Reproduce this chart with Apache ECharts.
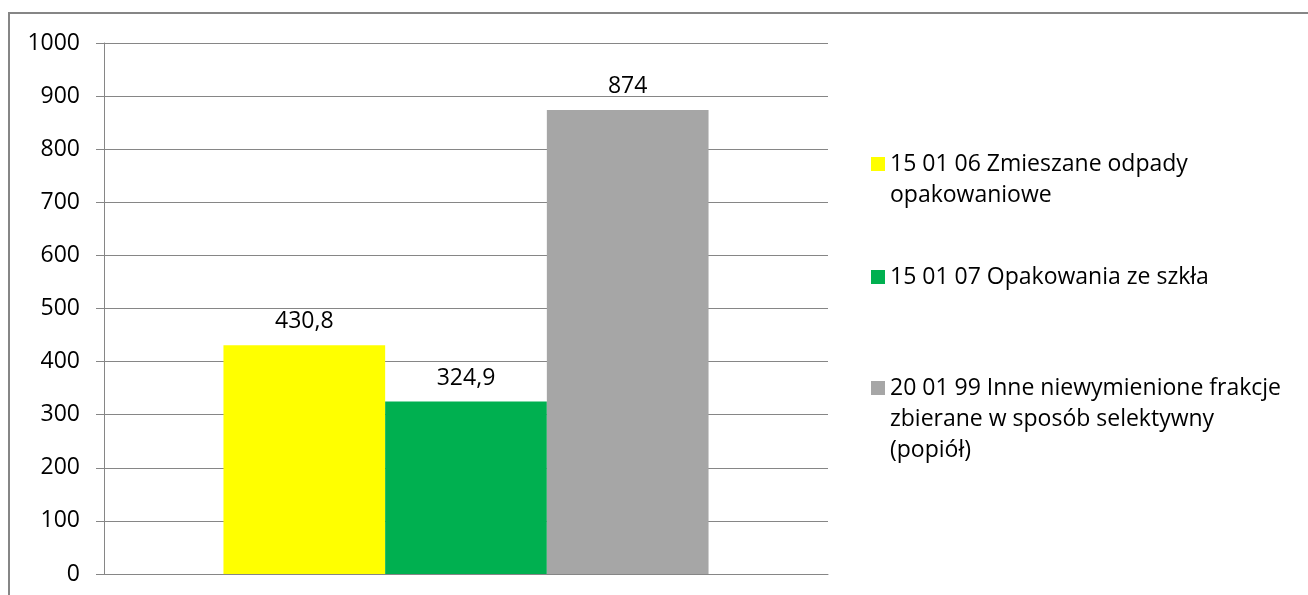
<!DOCTYPE html>
<html>
<head>
<meta charset="utf-8">
<script src="https://cdn.jsdelivr.net/npm/echarts@6/dist/echarts.min.js"></script>
<style>
  html, body { margin: 0; padding: 0; background: #fff; }
  #chart { width: 1308px; height: 595px; }
</style>
</head>
<body>
<div id="chart"></div>
<script>
// kategorie (jedna grupa słupków)
const categories = [''];
// nazwy serii
const seriesNames = [
  '15 01 06 Zmieszane odpady\nopakowaniowe',
  '15 01 07 Opakowania ze szkła',
  '20 01 99 Inne niewymienione frakcje\nzbierane w sposób selektywny\n(popiół)'
];
// wartości
const valuesMixed = [430.8];
const valuesGlass = [324.9];
const valuesAsh = [874];
// oś Y
const yMin = 0;
const yMax = 1000;
const yStep = 100;

const colors = ['#FFFF00', '#00B050', '#A6A6A6'];
const font = '"Open Sans", sans-serif';
const fontSize = 23;
const lineH = 31;

const chart = echarts.init(document.getElementById('chart'));

// legenda: osobny komponent dla każdej pozycji; puste linie na początku,
// żeby ikona wypadła przy pierwszej linii tekstu
const firstLineY = [164, 277, 388];
const legends = seriesNames.map((name, i) => {
  const extra = name.split('\n').length - 1;
  const total = 2 * extra + 1;
  return {
    orient: 'vertical',
    left: 871,
    top: firstLineY[i] - (total * lineH) / 2,
    padding: 0,
    itemWidth: 14,
    itemHeight: 14,
    icon: 'rect',
    selectedMode: false,
    data: [name],
    formatter: (n) => '\n'.repeat(extra) + n,
    textStyle: { fontFamily: font, fontSize: fontSize, color: '#000', lineHeight: lineH }
  };
});

const barLabel = {
  show: true,
  position: 'top',
  distance: 12,
  fontFamily: font,
  fontSize: fontSize,
  color: '#000',
  formatter: (p) => String(p.value).replace('.', ',')
};

const seriesData = [valuesMixed, valuesGlass, valuesAsh];

chart.setOption({
  animation: false,
  backgroundColor: '#fff',
  graphic: [{
    type: 'rect',
    shape: { x: 9, y: 13, width: 1330, height: 620 },
    style: { fill: 'none', stroke: '#868686', lineWidth: 2 },
    silent: true
  }],
  legend: legends,
  grid: { left: 104, right: 480, top: 43, bottom: 21, containLabel: false },
  xAxis: {
    type: 'category',
    data: categories,
    axisLine: { show: true, lineStyle: { color: '#868686', width: 1 } },
    axisTick: { show: false },
    axisLabel: { show: false }
  },
  yAxis: {
    type: 'value',
    min: yMin,
    max: yMax,
    interval: yStep,
    axisLine: { show: true, lineStyle: { color: '#868686', width: 1 } },
    axisTick: { show: true, inside: false, length: 8, lineStyle: { color: '#868686' } },
    axisLabel: {
      margin: 24, fontFamily: font, fontSize: fontSize, color: '#000',
      formatter: (v) => String(v)
    },
    splitLine: { show: true, lineStyle: { color: '#868686', width: 1 } }
  },
  series: seriesNames.map((name, i) => ({
    name: name,
    type: 'bar',
    data: seriesData[i],
    itemStyle: { color: colors[i] },
    barGap: '0%',
    barCategoryGap: '33%',
    label: barLabel
  }))
});
</script>
</body>
</html>
